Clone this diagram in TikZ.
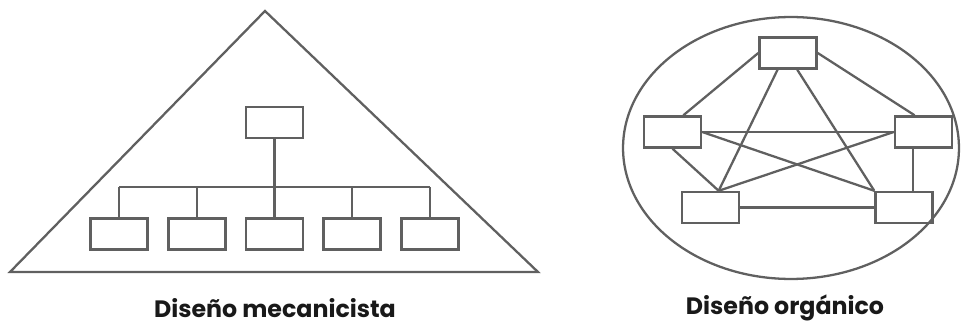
\documentclass[tikz,border=0pt]{standalone}
\usepackage{fontspec}
\setmainfont{Poppins}
\usepackage{xcolor}
\definecolor{linegray}{RGB}{96,96,96}

\begin{document}
\begin{tikzpicture}[x=0.02cm,y=-0.02cm,line width=1.3pt,color=linegray,
  box/.style={draw=linegray,line width=1.4pt,minimum width=1.14cm,minimum height=0.62cm,inner sep=0pt},
  lbl/.style={text=black!90,font=\bfseries\fontsize{13.5}{15}\selectfont}]
  \useasboundingbox (0,0) rectangle (961,324);
  % mecanicista
  \draw (265,11) -- (538,272) -- (10,272) -- cycle;
  \node[box] (m0) at (274.5,122.5) {};
  \coordinate (bar) at (274.5,187);
  \draw (m0.south) -- (bar);
  \foreach \x [count=\i] in {119,197,274.5,352,430}{
    \node[box] (m\i) at (\x,234) {};
    \draw (m\i.north) -- (m\i.north |- bar);
  }
  \draw (m1.north |- bar) -- (m5.north |- bar);
  \node[lbl] (tm) at (275,308) {Diseño mecanicista};
  % organico
  \draw (791,148) ellipse [x radius=3.36cm,y radius=2.62cm];
  \node[box] (ot) at (788,53) {};
  \node[box] (ol) at (672.5,132) {};
  \node[box] (or) at (923.5,132) {};
  \node[box] (obl) at (710.5,207.5) {};
  \node[box] (obr) at (904,207.5) {};
  \draw (ot.west) -- (ol.57);
  \draw (ot.east) -- (or.118);
  \draw (ot.238) -- (obl.64);
  \draw (ot.299) -- (obr.north west);
  \draw (ol.east) -- (or.west);
  \draw (ol.east) -- (obr.north west);
  \draw (or.west) -- (obl.64);
  \draw (ol.south) -- (obl.64);
  \draw (obl.east) -- (obr.west);
  \draw ([xshift=-0.21cm]or.south) -- ([xshift=-0.21cm]or.south |- obr.north);
  \node[lbl] (to) at (785,308) {Diseño orgánico};
\end{tikzpicture}
\end{document}
